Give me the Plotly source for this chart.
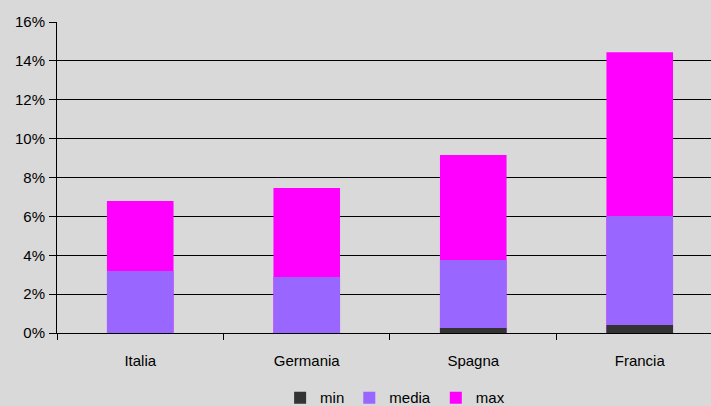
import plotly.graph_objects as go

# Data (percentages)
countries = ['Italia', 'Germania', 'Spagna', 'Francia']
min_vals = [0.0, 0.0, 0.26, 0.41]
media_vals = [3.19, 2.88, 3.75, 6.02]
max_vals = [6.79, 7.46, 9.16, 14.45]

font_family = 'Liberation Sans, Arial'

fig = go.Figure()
# overlaid bars: largest drawn first
fig.add_trace(go.Bar(x=countries, y=max_vals, name='max', marker_color='#ff00ff', width=0.4))
fig.add_trace(go.Bar(x=countries, y=media_vals, name='media', marker_color='#9966ff', width=0.4))
fig.add_trace(go.Bar(x=countries, y=min_vals, name='min', marker_color='#333333', width=0.4))

fig.update_traces(marker_line_width=0)

fig.update_layout(
    width=711, height=406,
    barmode='overlay',
    paper_bgcolor='#d9d9d9',
    plot_bgcolor='#d9d9d9',
    margin=dict(l=57, r=0, t=22, b=73),
    font=dict(family=font_family, size=15, color='black'),
    showlegend=True,
    legend=dict(
        orientation='h', traceorder='reversed',
        x=0.517, xanchor='center',
        yref='container', y=0.02, yanchor='middle',
        bgcolor='rgba(0,0,0,0)', font=dict(size=15),
        itemwidth=30, tracegroupgap=0,
    ),
    xaxis=dict(
        range=[-0.5, 3.428],
        showline=True, linecolor='black', linewidth=1,
        ticks='outside', tickson='boundaries', ticklen=6, tickcolor='black',
        ticklabelstandoff=14,
        showgrid=False, automargin=False,
    ),
    yaxis=dict(
        range=[0, 16], dtick=2, ticksuffix='%',
        showgrid=True, gridcolor='black', gridwidth=1,
        zeroline=False,
        showline=True, linecolor='black', linewidth=1,
        ticks='outside', ticklen=7, tickcolor='black',
        ticklabelstandoff=1, automargin=False,
    ),
)

fig.write_html('out.html', config={'displayModeBar': False},
               post_script="document.body.style.margin='0';")
